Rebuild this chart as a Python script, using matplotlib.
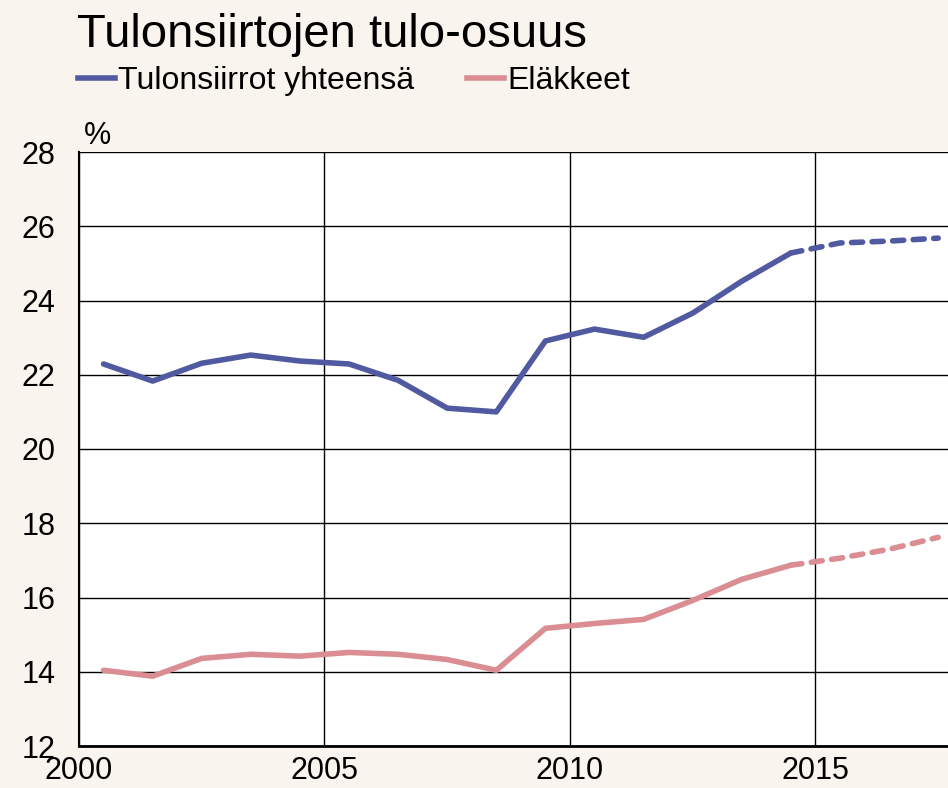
import numpy as np
import matplotlib
matplotlib.use('Agg')
import matplotlib.pyplot as plt
from matplotlib.lines import Line2D

plt.rcParams['font.family'] = ['Liberation Sans', 'DejaVu Sans']

# vuodet (puolivuosi keskikohta)
years = np.arange(2000, 2018) + 0.5
tulonsiirrot = [22.29, 21.83, 22.31, 22.53, 22.37, 22.29, 21.85, 21.10, 21.00,
                22.91, 23.23, 23.01, 23.66, 24.52, 25.28, 25.55, 25.60, 25.68]
elakkeet = [14.04, 13.88, 14.36, 14.47, 14.42, 14.52, 14.47, 14.33, 14.04,
            15.17, 15.30, 15.41, 15.92, 16.49, 16.87, 17.06, 17.30, 17.62]
n_hist = 15  # 2014 viimeinen toteutunut

blue = '#5159a1'
pink = '#da8d92'
bg = '#f9f4ee'

fig = plt.figure(figsize=(9.48, 7.88), dpi=100, facecolor=bg)
ax = fig.add_axes([79/948, 42/788, 1 - 79/948, (746-152)/788])
ax.set_facecolor('white')

lw = 4.0
for vals, c in [(tulonsiirrot, blue), (elakkeet, pink)]:
    ax.plot(years[:n_hist], vals[:n_hist], color=c, lw=lw, solid_capstyle='round', zorder=3)
    ax.plot(years[n_hist-1:], vals[n_hist-1:], color=c, lw=lw, ls=(0, (2.0, 1.7)),
            dash_capstyle='round', zorder=3)

ax.set_xlim(2000, 2017.7)
ax.set_ylim(12, 28)
ax.set_yticks(np.arange(12, 29, 2))
ax.set_xticks([2000, 2005, 2010, 2015])
ax.grid(True, color='black', lw=1.0)
ax.set_axisbelow(True)
for s in ['top', 'right']:
    ax.spines[s].set_visible(False)
ax.spines['left'].set_linewidth(1.5)
ax.spines['bottom'].set_linewidth(2)
ax.tick_params(length=0, labelsize=22, pad=7)
ax.tick_params(axis='y', pad=17)

fig.text(77/948, 1 - 47/788, 'Tulonsiirtojen tulo-osuus', fontsize=34, ha='left', va='baseline')
fig.text(84/948, 1 - 144/788, '%', fontsize=22, ha='left', va='baseline')

handles = [Line2D([], [], color=blue, lw=lw), Line2D([], [], color=pink, lw=lw)]
fig.legend(handles, ['Tulonsiirrot yhteensä', 'Eläkkeet'], loc='center left',
           bbox_to_anchor=(78/948, 1 - 81/788), ncol=2, frameon=False, fontsize=23,
           handlelength=1.15, handletextpad=0.1, columnspacing=1.66, borderaxespad=0,
           borderpad=0)

fig.savefig('out.png', dpi=100, facecolor=bg)
